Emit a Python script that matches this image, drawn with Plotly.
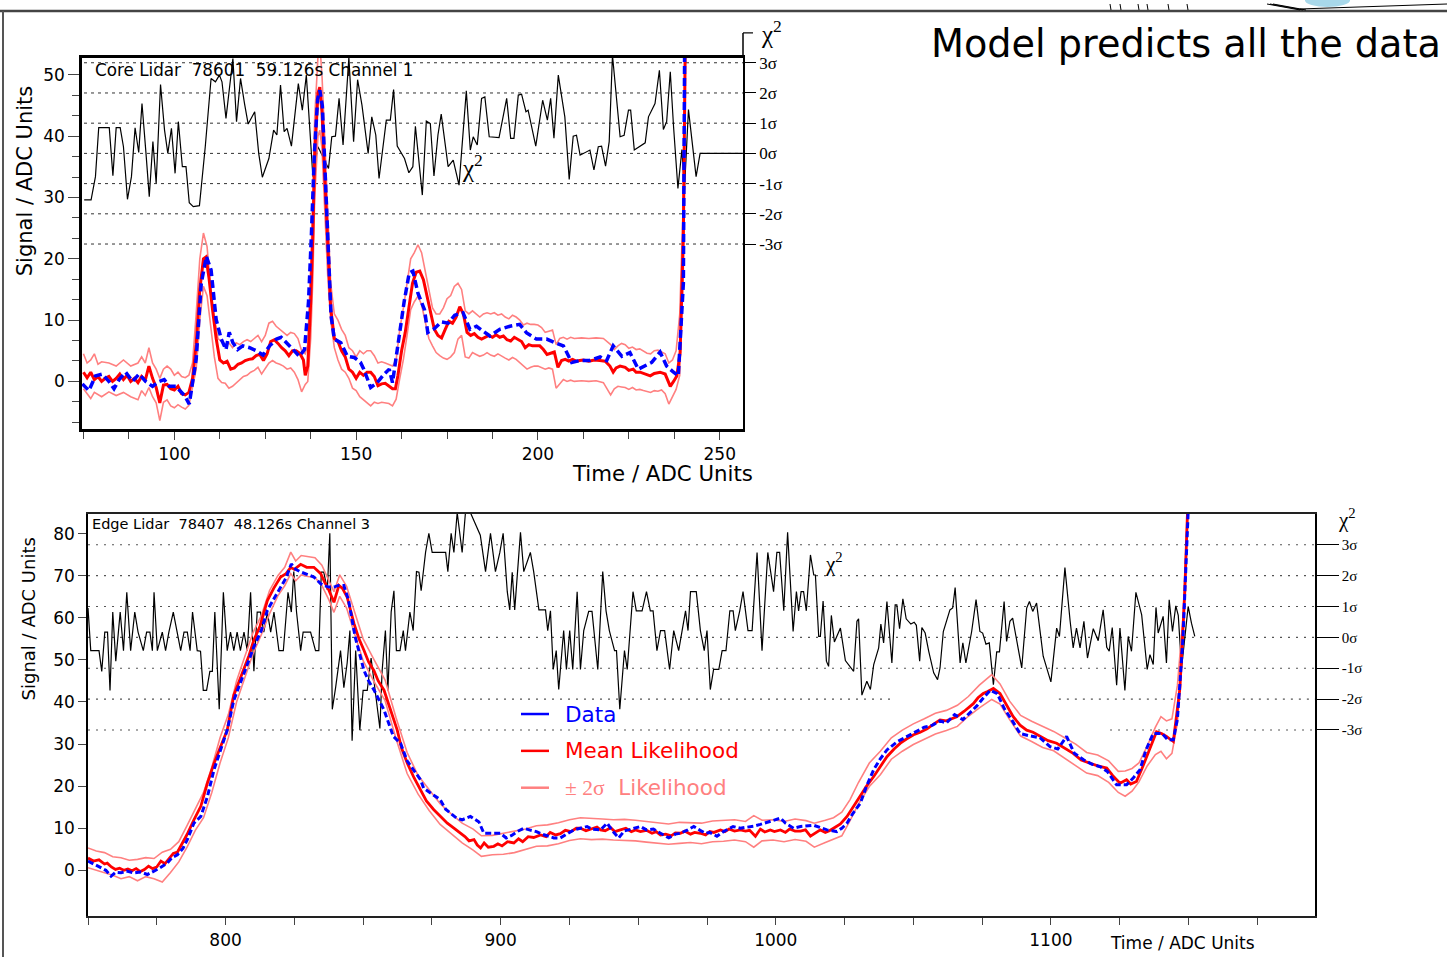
import plotly.graph_objects as go

W, H = 1447, 957


def px(x):
    return x / W


def py(y):
    return 1 - y / H


""" DATA
Top panel: core lidar, channel 1.  Bottom panel: edge lidar, channel 3.
Signals in ADC units, chi-square traces in sigma units (right axes).
"""
sigma_levels = [-3, -2, -1, 0, 1, 2, 3]
sigma_text = ["-3σ", "-2σ", "-1σ", "0σ", "1σ", "2σ", "3σ"]
core_ticks = [100, 150, 200, 250]
edge_ticks = [800, 900, 1000, 1100]
edge_signal_ticks = [0, 10, 20, 30, 40, 50, 60, 70, 80]

core_mean_x = [75, 76, 77, 78, 79, 80, 81, 82, 83, 84,
               85, 86, 87, 88, 89, 90, 91, 92, 93, 94,
               95, 96, 97, 98, 99, 100, 101, 102, 103, 104,
               105, 106, 107, 108, 108.7, 109.5, 110.5, 111.5, 112.5, 113.5,
               114.5, 115.5, 116.5, 117.5, 118.5, 119.5, 120.5, 121.5, 122.5, 123.5,
               124.5, 125.5, 126.5, 127.5, 128.5, 129.5, 130.5, 131.5, 132.5, 133.5,
               134.5, 135.5, 136, 136.7, 137.5, 138.1, 138.6, 139.5, 140, 140.6,
               141.4, 142.2, 143, 144, 145, 146, 147, 148, 149, 150,
               151, 152, 153, 154, 155, 156, 157, 158, 159, 160,
               160.8, 161.5, 162.5, 163.5, 164.5, 165.5, 166.5, 167.5, 168.5, 169.5,
               170.5, 171.5, 172.5, 173.5, 174.5, 175.5, 176.5, 177.5, 178.5, 179.5,
               180.5, 181.5, 182.5, 183.5, 184.5, 185.5, 186.5, 187.5, 188.5, 189.5,
               190.5, 191.5, 192.5, 193.5, 194.5, 195.5, 196.5, 197.5, 198.5, 199.5,
               200.5, 201.5, 202.5, 203.5, 204.5, 205.5, 206.5, 207.5, 208.5, 209.5,
               210.5, 211.5, 212.5, 214, 215.5, 217, 218.5, 219.8, 220.7, 221.5,
               222.6, 224, 225, 226.2, 227, 228.1, 229.5, 230.9, 232, 233.6,
               235, 236.4, 237.3, 238.2, 239.1, 240, 240.6]
core_mean = [1.5, 0.6, 1.5, 0.3, 0.8, 0.0, 0.5, 0.8, 0.0, 0.5,
             1.2, 0.3, 1.0, 0.0, 0.5, -0.2, 0.8, 0.2, 2.5, 0.5,
             -1.0, -3.5, -0.6, -0.5, -1.2, -1.4, -0.8, -2.0, -2.2, -1.8,
             0.5, 6.0, 15.0, 20.0, 20.3, 17.0, 11.7, 7.0, 3.5, 3.0,
             3.3, 2.0, 2.2, 2.8, 3.0, 3.4, 3.6, 3.7, 4.2, 4.4,
             3.4, 4.5, 6.5, 6.8, 6.2, 5.5, 5.0, 4.2, 5.0, 5.0,
             4.6, 3.5, 1.0, 2.5, 13.0, 24.0, 37.0, 47.0, 48.0, 44.0,
             33.0, 22.0, 12.0, 7.0, 6.5, 5.0, 4.0, 2.0, 1.5, 0.5,
             1.5, 1.0, 1.5, 1.5, 0.8, -0.7, -0.4, -0.3, -0.7, -1.2,
             -1.2, 1.0, 5.0, 8.0, 12.0, 16.0, 17.8, 18.0, 16.6, 14.0,
             11.0, 8.5, 7.5, 7.1, 8.5, 9.8, 9.5, 10.5, 12.2, 11.0,
             8.0, 7.5, 7.8, 7.2, 6.9, 7.2, 7.5, 7.2, 7.6, 7.2,
             7.4, 6.8, 6.6, 7.2, 6.9, 6.5, 5.5, 6.0, 5.8, 5.8,
             5.8, 5.2, 4.4, 4.6, 4.8, 2.3, 3.4, 3.6, 3.3, 3.6,
             3.3, 3.4, 3.5, 3.3, 3.5, 3.4, 3.3, 2.5, 1.5, 2.2,
             2.5, 2.3, 1.8, 2.0, 1.5, 1.5, 1.2, 0.9, 1.3, 1.5,
             1.2, -0.8, 0.0, 0.9, 4.7, 24.0, 60.0]

core_band_x = [75, 76, 77, 78, 79, 80, 82, 84, 86, 88,
               90, 91, 92, 93, 94, 95, 96, 97, 98, 99,
               100, 101, 102, 103, 104, 105, 106, 107, 108, 109,
               110, 111, 112, 113, 114, 115, 116, 117, 118, 119,
               120, 121, 122, 123, 124, 125, 126, 127, 128, 129,
               130, 131, 132, 133, 134, 135, 136, 136.7, 137.5, 138.1,
               138.6, 139.5, 140, 140.6, 141.4, 142.2, 143, 144, 145, 146,
               147, 148, 149, 150, 151, 152, 153, 154, 155, 156,
               157, 158, 159, 160, 161, 162, 163, 164, 165, 166,
               167, 168, 169, 170, 171, 172, 173, 174, 175, 176,
               177, 178, 179, 180, 181, 182, 183, 184, 185, 186,
               187, 188, 189, 190, 191, 192, 193, 194, 195, 196,
               197, 198, 199, 200, 201, 202, 203, 204, 205, 206,
               207, 208, 209, 210, 212, 214, 216, 218, 220, 221,
               222, 223, 224, 225, 226, 227, 228, 229, 230, 231,
               232, 233, 234, 235, 236, 237, 238, 239, 240, 240.6]
core_hi = [4.5, 3.0, 3.5, 4.5, 2.8, 3.2, 3.0, 2.5, 3.5, 2.5,
           3.0, 4.0, 3.0, 5.5, 3.0, 2.0, 0.5, 2.0, 2.5, 2.0,
           1.0, 1.5, 0.8, 0.6, 1.0, 3.0, 11.0, 20.0, 24.2, 22.0,
           15.0, 10.5, 7.0, 6.5, 5.8, 6.3, 5.5, 6.3, 6.0, 6.5,
           6.8, 6.5, 7.0, 7.5, 6.5, 7.5, 9.5, 9.8, 9.0, 8.5,
           8.0, 7.5, 8.0, 7.8, 7.0, 5.0, 4.5, 6.0, 19.0, 30.0,
           43.0, 53.0, 55.0, 50.0, 39.0, 27.0, 16.0, 11.0, 10.0, 8.5,
           7.5, 5.5, 5.0, 4.0, 5.0, 4.5, 5.0, 5.0, 4.2, 3.0,
           3.2, 3.0, 2.7, 2.5, 3.5, 8.5, 12.0, 16.0, 20.0, 21.0,
           22.3, 21.0, 18.0, 15.0, 12.0, 11.0, 11.0, 12.0, 13.5, 14.0,
           15.5, 16.0, 15.0, 11.5, 11.0, 11.5, 11.0, 10.5, 11.0, 11.2,
           11.0, 11.2, 10.8, 11.0, 10.5, 10.2, 10.8, 10.5, 10.0, 9.2,
           9.5, 9.3, 9.3, 9.2, 8.8, 8.0, 8.2, 8.4, 6.0, 7.0,
           7.2, 6.9, 7.2, 7.0, 7.1, 7.0, 7.1, 7.0, 6.0, 5.2,
           5.8, 6.2, 6.0, 5.4, 5.6, 5.2, 5.3, 4.9, 4.6, 4.5,
           5.0, 5.1, 4.8, 4.5, 3.0, 3.5, 5.0, 11.0, 30.0, 60.0]
core_lo = [-1.2, -2.0, -2.8, -1.8, -2.2, -2.5, -1.7, -2.3, -1.8, -2.5,
           -3.0, -1.5, -2.3, -1.0, -2.5, -3.5, -6.4, -3.4, -3.0, -4.0,
           -4.3, -3.8, -4.2, -4.5, -3.9, -1.2, 2.0, 10.0, 15.5, 14.0,
           8.5, 4.0, 0.5, -0.2, -0.3, -1.1, -0.8, -0.3, 0.2, 0.8,
           1.0, 1.5, 1.8, 2.3, 1.2, 2.0, 3.0, 3.4, 3.0, 2.8,
           2.5, 2.0, 2.2, 1.5, 0.3, -1.7, -0.5, 0.0, 7.0, 17.0,
           30.0, 40.0, 41.0, 38.0, 27.0, 17.0, 10.0, 5.5, 3.5, 2.0,
           1.5, 0.5, -1.1, -1.5, -2.5, -3.0, -3.5, -4.0, -3.4, -3.6,
           -3.4, -3.5, -3.6, -4.0, -2.9, 0.5, 3.6, 7.5, 11.7, 13.0,
           13.9, 12.5, 10.0, 7.0, 5.8, 4.7, 4.2, 3.8, 3.6, 4.0,
           4.7, 6.9, 7.5, 4.0, 3.8, 4.7, 4.4, 4.1, 4.3, 4.7,
           4.3, 4.1, 4.5, 4.1, 3.8, 3.5, 3.9, 3.6, 3.1, 2.5,
           2.0, 2.3, 2.5, 2.5, 2.2, 2.0, 2.2, 2.0, -1.1, -0.3,
           0.3, 0.0, 0.2, 0.0, 0.1, 0.0, 0.1, -0.2, -2.2, -1.2,
           -0.8, -0.9, -1.0, -1.3, -1.0, -1.4, -1.3, -1.5, -1.6, -1.8,
           -1.5, -1.6, -1.4, -2.0, -3.7, -2.5, -1.3, 1.0, 18.0, 60.0]

core_data_x = [74.7, 76.5, 78.3, 80.2, 82, 83.4, 84.8, 86.6, 88.5, 90.3,
               92.1, 94, 95.8, 97.2, 98.6, 100.4, 102.8, 104.1, 106, 107.4,
               108.8, 110.1, 111.5, 112.9, 114.2, 115.1, 116.1, 117.4, 118.8, 120.7,
               122.5, 124.4, 126.2, 128.1, 129.4, 130.8, 132.6, 134.4, 135.8, 136.9,
               137.7, 138.5, 139.4, 140, 140.7, 141.5, 142.3, 143.1, 144, 145.8,
               147.6, 149.5, 151.2, 152.1, 154, 155.8, 157.7, 159.1, 160, 161.3,
               163.2, 164.6, 165.6, 167, 168.8, 169.7, 171.5, 173.4, 175.3, 177.1,
               179.4, 181.3, 183.1, 184.9, 186.8, 189.5, 192.3, 195, 196.9, 199.6,
               202.4, 204.7, 207, 209.3, 211.6, 214.3, 217.1, 218.9, 220.7, 223.1,
               225.3, 227.6, 229.5, 231.3, 233.6, 235.4, 237.3, 238.6, 240, 240.4]
core_data = [-0.4, -1.5, 0.9, 1.2, 0.0, -1.2, 0.3, 1.5, 0.0, 1.2,
             0.0, -0.8, 0.0, 0.3, -0.8, -0.8, -2.3, -3.7, 3.6, 16.0,
             20.4, 18.2, 10.1, 6.9, 5.2, 8.0, 6.3, 5.2, 5.8, 5.5,
             5.0, 4.3, 5.8, 6.9, 7.2, 6.3, 5.2, 4.1, 5.2, 13.0,
             24.0, 37.0, 46.0, 47.5, 45.0, 34.0, 22.0, 10.7, 6.9, 6.3,
             4.1, 3.9, 3.1, 2.0, -1.0, -0.2, 1.2, 2.0, -0.2, 5.2,
             13.0, 17.7, 18.0, 14.4, 11.7, 8.0, 8.6, 9.7, 9.5, 10.8,
             11.2, 8.5, 9.0, 8.2, 7.4, 8.5, 9.0, 9.3, 7.9, 6.9,
             6.9, 6.3, 5.8, 3.1, 3.4, 3.4, 4.0, 3.4, 5.8, 4.1,
             4.7, 2.0, 2.5, 3.1, 4.8, 2.5, 1.5, 0.9, 16.0, 60.0]

core_chi_x = [75.2, 77.1, 78.3, 79.2, 82.1, 83.1, 84.0, 85.1, 86.0, 87.1,
              88.2, 89.2, 90.2, 91.1, 92.2, 93.1, 94.1, 95.0, 96.2, 97.3,
              98.2, 99.2, 100.2, 101.1, 102.2, 103.2, 104.1, 105.2, 106.9, 108.5,
              110.1, 111.3, 112.4, 113.1, 114.2, 116.1, 117.1, 118.2, 119.3, 120.3,
              122.1, 123.2, 124.2, 126.0, 127.3, 128.2, 129.2, 130.2, 131.0, 132.2,
              134.1, 135.2, 136.3, 138.1, 139.5, 140.6, 142.4, 143.3, 144.3, 145.3,
              146.4, 148.0, 149.3, 150.4, 151.6, 153.3, 154.3, 155.4, 156.3, 158.3,
              159.4, 160.3, 161.3, 163.3, 164.5, 165.6, 166.3, 168.2, 169.3, 170.4,
              171.4, 172.5, 173.4, 175.3, 176.7, 178.3, 180.3, 181.4, 182.2, 183.3,
              184.5, 185.4, 186.6, 189.3, 191.4, 192.5, 193.4, 194.6, 195.5, 196.7,
              197.3, 199.4, 201.3, 202.6, 203.5, 204.4, 205.6, 207.4, 208.6, 209.7,
              210.6, 211.6, 214.3, 215.4, 216.6, 217.5, 218.6, 219.6, 220.5, 222.6,
              223.7, 224.9, 225.5, 226.5, 229.5, 230.4, 232.2, 233.4, 234.5, 235.4,
              236.4, 237.3, 238.5, 239.6, 240.3, 241.4, 243.5, 244.6, 256.3]
core_chi = [-1.54, -1.54, -0.77, 0.85, 0.85, -0.74, 0.85, 0.85, 0.22, -1.52,
            -0.77, 0.85, 0.03, 1.65, 0.0, -1.43, 0.39, -0.99, 2.28, 0.77,
            0.0, 0.83, -0.66, 1.05, -0.44, -0.44, -1.63, -1.76, -1.73, 0.22,
            2.48, 2.37, 2.59, 2.37, 1.16, 3.14, 1.05, 2.48, 1.65, 0.97,
            1.38, 0.0, -0.79, -0.17, 0.77, 0.61, 2.26, 0.72, 0.83, 0.24,
            2.31, 1.43, 2.59, -0.77, 0.22, -0.06, -0.5, 0.55, 0.57, 1.82,
            0.28, 3.17, 0.39, 2.44, 1.6, 0.0, 1.21, 0.61, -0.83, 1.1,
            1.1, 2.11, 0.24, -0.17, -0.64, -0.44, 0.9, -1.38, 1.07, 0.99,
            -0.75, 0.61, 1.3, -0.44, -0.22, -1.05, 2.07, 0.11, 0.55, 0.28,
            1.82, 1.87, 0.55, 0.52, 1.82, 0.5, 0.5, 1.93, 1.96, 1.38,
            1.43, 0.24, 1.76, 1.1, 1.82, 0.5, 2.59, 1.21, -0.86, 0.57,
            0.6, -0.06, 0.11, -0.55, 0.22, 0.24, -0.42, 0.39, 3.25, 0.55,
            0.6, 1.43, 1.43, 0.11, 0.35, 1.21, 1.65, 2.75, 0.79, 1.05,
            2.7, 0.88, -1.16, 0.13, -1.21, 1.45, -0.77, 0.0, 0.0]

edge_mean_x = [750, 752, 754, 756, 757, 758.5, 760, 761.5, 763, 764.5,
               766, 767.5, 769, 770.5, 772, 773.5, 775, 776.5, 778, 779.5,
               781, 782.5, 784, 786, 788.5, 791, 793.4, 795.8, 798.2, 800.6,
               803, 805, 806.7, 808.5, 810.3, 812.5, 815.2, 817.5, 820, 822,
               823.7, 825, 827.3, 829.5, 832.1, 834.6, 836, 837.6, 839.4, 841.2,
               842.5, 844.2, 846.7, 848.5, 850.3, 852, 853.9, 855.5, 857.6, 860,
               862.4, 864, 866.1, 868.5, 870.9, 873, 875.7, 878, 880.6, 883,
               885.4, 887, 888.5, 890.3, 891.5, 892.7, 894, 895.5, 897.5, 899,
               900.5, 902.5, 904.8, 906.5, 908, 910, 912, 914.5, 916.5, 918,
               920, 921.7, 923.5, 925.5, 927.5, 929, 931, 933, 935, 936.3,
               938, 940, 941.5, 943.5, 945.5, 947.5, 949, 950.8, 953, 955,
               956.5, 958.1, 960, 962, 963.5, 965.3, 967, 969, 970.5, 972.6,
               974.5, 976, 977.5, 979.9, 981.5, 983, 985, 987.1, 989, 990.5,
               992.6, 994.4, 996, 998, 999.5, 1001.7, 1003.5, 1005, 1007, 1009,
               1010.8, 1012.6, 1014.5, 1016.2, 1018, 1019.5, 1021, 1023.5, 1025.9, 1028.5,
               1030.7, 1033, 1035.6, 1038, 1040.4, 1043, 1045.3, 1047.5, 1050.1, 1052.5,
               1055, 1057.5, 1059.7, 1062, 1065.8, 1068.5, 1071.8, 1073.5, 1075.4, 1077,
               1079.1, 1081.5, 1083.5, 1086.3, 1088.8, 1091.2, 1093.5, 1096, 1099, 1102.1,
               1105, 1108.1, 1111, 1114.2, 1117, 1120.3, 1122.5, 1125.1, 1127.5, 1129,
               1131.1, 1133, 1134.8, 1136.5, 1138.4, 1140.2, 1142, 1144.5, 1146.9, 1148.7,
               1149.9]
edge_mean = [2.9, 2.2, 2.5, 1.5, 1.7, 0.8, 0.2, 0.5, 0.0, 0.3,
             -0.1, 0.4, -0.3, 0.2, 1.0, 0.4, 0.8, 2.2, 1.6, 2.9,
             4.0, 4.3, 6.1, 8.5, 12.0, 15.2, 20.7, 25.4, 29.4, 33.3,
             41.6, 45.0, 48.3, 51.0, 54.7, 58.0, 64.1, 67.0, 69.7, 70.5,
             72.0, 71.5, 72.7, 72.0, 72.0, 70.5, 68.5, 66.5, 63.7, 67.7,
             67.0, 64.9, 58.6, 55.0, 52.3, 49.5, 47.5, 45.0, 42.8, 38.0,
             33.3, 29.0, 25.4, 22.0, 19.1, 16.5, 14.4, 13.0, 11.2, 10.0,
             8.8, 8.0, 7.0, 7.3, 6.0, 5.3, 6.5, 5.5, 5.7, 6.3,
             5.8, 6.8, 6.5, 7.5, 6.8, 8.0, 7.8, 8.4, 8.0, 9.0,
             8.4, 8.7, 9.5, 9.2, 10.0, 10.0, 9.4, 9.8, 10.3, 9.6,
             9.4, 10.1, 9.2, 9.6, 10.0, 9.2, 9.6, 9.2, 9.5, 8.8,
             9.2, 8.4, 8.6, 8.2, 8.9, 8.8, 9.3, 8.6, 9.0, 8.8,
             8.4, 9.2, 9.0, 9.6, 9.2, 9.8, 9.3, 9.6, 9.3, 9.5,
             8.1, 9.8, 9.1, 9.6, 9.2, 9.6, 9.0, 9.8, 9.3, 9.3,
             9.6, 8.1, 8.8, 9.6, 9.0, 9.4, 10.0, 11.0, 12.8, 15.5,
             17.9, 20.0, 22.3, 24.8, 27.0, 28.8, 30.2, 31.2, 32.2, 32.8,
             33.6, 34.8, 35.7, 35.5, 36.5, 37.8, 39.6, 41.0, 42.0, 42.5,
             43.2, 42.0, 39.8, 36.5, 34.5, 33.3, 32.8, 31.8, 30.8, 30.2,
             29.0, 27.8, 26.2, 25.4, 24.8, 24.3, 22.5, 20.7, 21.5, 20.5,
             21.1, 24.0, 27.0, 30.0, 32.9, 32.5, 31.8, 30.6, 43.2, 66.5,
             90.0]

edge_band_x = [750, 753, 756, 759, 762, 765, 768, 771, 774, 777,
               780, 783, 786, 789, 792, 795, 798, 801, 804, 807,
               810, 813, 816, 819, 821.5, 823.7, 825.5, 827.5, 830, 832.5,
               835, 837.6, 839.4, 841.5, 844, 847, 850, 854, 858, 862,
               866, 870, 874, 878, 882, 886, 890, 893, 897, 901,
               905, 909, 913, 917, 921, 925, 929, 933, 937, 941,
               945, 949, 953, 957, 961, 965, 969, 973, 977, 981,
               985, 989, 992, 995, 999, 1003, 1007, 1011, 1014, 1018,
               1021, 1024, 1027, 1030, 1034, 1038, 1042, 1046, 1050, 1054,
               1058, 1062, 1066, 1070, 1074, 1078.5, 1081.5, 1085, 1089, 1093,
               1097, 1101, 1105, 1109, 1113, 1117, 1121, 1124.5, 1127, 1129.5,
               1132, 1135, 1138, 1140, 1142, 1144, 1146, 1148, 1149.5, 1150]
edge_hi = [5.3, 4.6, 4.2, 3.2, 3.0, 2.4, 2.6, 3.0, 2.8, 4.3,
           5.0, 6.8, 10.6, 14.5, 18.5, 24.5, 31.5, 37.0, 45.0, 50.8,
           56.5, 60.5, 66.5, 70.0, 72.0, 75.6, 73.5, 74.8, 74.5, 74.3,
           72.5, 68.8, 66.2, 70.2, 67.5, 61.2, 55.0, 50.0, 45.2, 36.2,
           28.0, 22.5, 19.0, 15.8, 13.4, 11.2, 9.8, 8.2, 8.3, 8.8,
           9.2, 9.8, 10.6, 10.8, 11.3, 12.0, 12.5, 12.4, 12.2, 12.0,
           12.1, 11.9, 11.6, 11.2, 11.0, 11.4, 11.3, 11.2, 11.7, 11.8,
           12.0, 11.6, 13.0, 11.9, 12.0, 11.6, 12.2, 11.8, 11.2, 11.9,
           12.5, 13.8, 16.8, 20.8, 25.5, 28.3, 31.5, 33.3, 34.8, 36.0,
           37.3, 38.0, 39.2, 41.3, 44.0, 46.5, 44.3, 40.2, 36.8, 35.4,
           34.2, 33.0, 31.5, 30.0, 28.0, 27.4, 26.0, 23.5, 23.6, 24.2,
           25.5, 29.5, 34.0, 36.5, 35.5, 36.0, 44.0, 60.0, 84.0, 90.0]
edge_lo = [0.6, 0.0, -0.5, -1.2, -2.0, -1.5, -2.5, -1.5, -2.0, -2.8,
           -0.5, 2.0, 5.5, 9.5, 12.5, 18.5, 25.5, 31.5, 40.0, 45.5,
           51.5, 56.0, 61.0, 65.2, 67.6, 70.5, 68.8, 70.2, 69.8, 69.6,
           67.7, 64.2, 61.3, 65.1, 62.3, 56.0, 49.8, 44.8, 40.3, 31.2,
           23.0, 18.1, 14.2, 10.9, 8.6, 6.5, 4.8, 3.3, 3.7, 3.8,
           4.2, 4.9, 5.7, 5.8, 6.3, 7.1, 7.5, 7.3, 7.4, 7.2,
           7.1, 7.0, 6.7, 6.5, 6.2, 6.4, 6.6, 6.3, 6.8, 6.9,
           7.2, 6.8, 5.5, 7.0, 7.2, 6.8, 7.3, 6.9, 5.5, 6.6,
           7.4, 8.2, 11.8, 15.7, 19.9, 22.7, 26.4, 28.3, 29.9, 31.2,
           32.4, 33.2, 34.2, 36.6, 38.6, 40.6, 39.5, 35.8, 31.9, 30.6,
           29.2, 28.4, 26.6, 25.0, 23.1, 22.5, 20.9, 18.5, 17.6, 18.8,
           21.0, 24.8, 27.5, 28.3, 26.5, 27.8, 35.0, 55.0, 80.0, 90.0]

edge_data_x = [750, 752, 754.5, 756.5, 758.4, 760, 762, 764, 766.7, 769,
               771.6, 774, 776, 778.8, 780.5, 782.5, 784.5, 786.1, 788.5, 791,
               793.4, 795.8, 798.2, 800.6, 803, 806.7, 810.3, 813, 815.2, 818,
               820, 822, 823.9, 825.5, 827.3, 830, 832.1, 834.6, 836, 837.6,
               839.4, 841, 843, 844.7, 847.1, 850.3, 852, 854, 857.6, 861,
               863.6, 866, 870.9, 872, 875.7, 878, 880, 882, 884, 886,
               889, 892.1, 893.9, 896, 899.9, 902, 904, 906, 908.4, 911,
               913, 915, 917, 919.3, 921.7, 924, 926.6, 929, 931.4, 933,
               936.3, 938.7, 940.5, 942.9, 945, 946.5, 950.8, 953, 955.5, 958.1,
               961.1, 963.5, 965.3, 968, 970.2, 972.5, 974.5, 976, 978.6, 981,
               984.5, 987.1, 989.5, 992, 994.4, 997, 999, 1001.7, 1003.5, 1006.5,
               1009, 1011, 1013.8, 1016, 1018.6, 1020.5, 1022.2, 1024, 1025.9, 1028,
               1030.7, 1033, 1035.6, 1038, 1040.4, 1044, 1047.7, 1051, 1054, 1057,
               1059.7, 1062, 1065, 1068, 1070.5, 1073, 1075.5, 1078, 1080.5, 1083,
               1086, 1088.8, 1092, 1096, 1099.7, 1102.5, 1105.7, 1108.5, 1112, 1115,
               1118, 1120.5, 1123.9, 1127.5, 1130, 1132.4, 1134.5, 1137.2, 1140.5, 1142.5,
               1144.5, 1146, 1148, 1149.5, 1150.2]
edge_data = [2.2, 1.5, 0.6, 0.0, -1.4, -0.5, -0.6, -0.2, -0.6, -0.4,
             -1.0, -0.2, 0.5, 1.7, 3.0, 3.7, 5.2, 7.3, 11.2, 12.8,
             17.5, 23.9, 28.6, 33.3, 40.4, 47.0, 53.1, 57.0, 61.8, 65.0,
             67.3, 69.5, 72.8, 71.5, 70.9, 70.2, 69.7, 68.1, 67.6, 67.3,
             67.3, 67.7, 67.7, 64.2, 55.5, 47.5, 45.0, 42.8, 38.1, 31.8,
             30.2, 26.0, 21.5, 19.5, 17.9, 16.8, 14.5, 13.5, 12.4, 12.0,
             12.8, 11.5, 8.8, 8.8, 8.8, 7.7, 8.3, 9.2, 10.0, 9.5,
             9.2, 8.6, 8.2, 7.7, 7.7, 8.6, 9.6, 10.0, 10.4, 9.8,
             9.6, 11.2, 9.5, 7.7, 9.4, 9.6, 10.4, 9.6, 9.8, 8.8,
             7.7, 8.6, 8.8, 9.6, 10.4, 9.5, 8.8, 9.0, 8.1, 9.2,
             10.4, 10.0, 10.2, 10.5, 10.9, 11.5, 11.8, 12.4, 11.2, 10.0,
             10.4, 10.5, 10.7, 10.2, 9.6, 9.4, 9.2, 10.0, 11.2, 13.5,
             15.9, 20.0, 23.9, 26.5, 28.6, 30.5, 31.8, 33.0, 34.0, 34.5,
             35.5, 35.0, 37.0, 35.8, 37.5, 39.0, 41.0, 42.8, 42.0, 38.5,
             35.5, 32.5, 32.0, 31.5, 29.4, 28.8, 31.8, 27.8, 26.2, 25.2,
             24.6, 23.5, 20.3, 20.3, 22.0, 23.9, 28.5, 32.5, 32.5, 31.0,
             31.0, 36.0, 55.0, 80.0, 90.0]

edge_chi_x = [750.0, 751.0, 754.0, 755.0, 756.1, 757.1, 758.0, 759.0, 760.1, 761.7,
              762.9, 764.1, 765.5, 767.0, 768.2, 770.1, 771.3, 772.5, 773.4, 774.0,
              775.2, 777.0, 778.2, 779.4, 781.0, 782.5, 783.7, 784.9, 786.1, 787.1,
              788.0, 789.7, 790.9, 791.9, 793.1, 794.3, 795.2, 796.1, 797.7, 799.2,
              800.6, 801.8, 803.0, 804.2, 805.4, 806.7, 807.9, 809.1, 810.3, 811.5,
              812.7, 813.9, 815.2, 816.4, 817.6, 819.4, 821.0, 822.7, 823.9, 824.8,
              825.8, 827.3, 828.2, 830.9, 832.7, 833.9, 834.8, 835.7, 837.0, 837.9,
              838.8, 840.0, 841.8, 843.0, 844.2, 845.2, 846.0, 847.3, 848.8, 850.0,
              851.5, 852.9, 854.5, 856.1, 856.9, 858.1, 859.0, 860.2, 861.2, 862.1,
              863.4, 864.6, 865.4, 867.0, 868.2, 869.4, 870.3, 871.1, 872.7, 873.9,
              875.1, 880.0, 880.8, 882.0, 883.0, 884.2, 886.0, 887.2, 889.0, 892.6,
              894.5, 896.3, 898.1, 899.7, 900.9, 902.4, 903.3, 904.2, 905.1, 907.2,
              908.4, 910.8, 912.0, 913.9, 916.3, 917.1, 918.1, 919.1, 920.2, 921.1,
              922.9, 923.9, 925.1, 926.2, 927.8, 929.0, 930.2, 932.0, 933.2, 935.3,
              937.1, 938.3, 939.5, 941.4, 942.1, 943.3, 945.0, 946.0, 948.1, 949.3,
              951.4, 953.0, 954.4, 955.4, 956.8, 958.1, 959.6, 961.4, 962.9, 964.7,
              967.2, 968.1, 969.0, 971.1, 972.6, 974.0, 975.0, 976.2, 977.4, 979.3,
              980.5, 981.9, 983.3, 984.5, 985.3, 986.9, 988.1, 989.9, 991.4, 993.2,
              995.0, 997.1, 999.2, 1000.4, 1001.4, 1002.9, 1004.3, 1006.3, 1007.5, 1008.3,
              1009.2, 1010.1, 1011.1, 1012.6, 1013.8, 1014.4, 1015.6, 1016.2, 1017.2, 1018.4,
              1019.2, 1020.2, 1021.3, 1023.5, 1025.3, 1028.3, 1029.5, 1030.1, 1031.3, 1033.1,
              1034.4, 1035.6, 1037.4, 1038.2, 1039.2, 1040.4, 1042.2, 1043.4, 1044.0, 1045.0,
              1046.2, 1047.4, 1049.1, 1050.3, 1051.1, 1052.3, 1053.1, 1054.3, 1055.6, 1057.4,
              1058.8, 1059.7, 1060.9, 1062.1, 1063.3, 1064.3, 1065.2, 1067.0, 1068.0, 1069.1,
              1071.2, 1072.8, 1074.2, 1075.2, 1076.4, 1077.6, 1079.1, 1080.3, 1081.3, 1083.0,
              1083.9, 1085.1, 1086.1, 1089.4, 1091.2, 1092.2, 1093.4, 1094.8, 1097.2, 1100.0,
              1102.1, 1103.1, 1105.1, 1107.0, 1108.1, 1109.3, 1110.6, 1112.0, 1113.3, 1115.4,
              1117.2, 1119.0, 1120.3, 1121.2, 1122.3, 1123.9, 1125.1, 1126.9, 1128.1, 1129.3,
              1130.9, 1133.0, 1135.0, 1136.0, 1137.2, 1138.2, 1139.0, 1140.8, 1142.0, 1143.0,
              1144.2, 1145.4, 1146.3, 1147.5, 1148.7, 1149.9, 1151.1, 1152.3]
edge_chi = [0.95, -0.43, -0.43, -1.10, 0.17, 0.17, -1.72, 0.82, -0.77, 0.82,
            -0.43, 1.46, -0.43, 0.82, 0.17, -0.43, 0.17, 0.17, -0.43, 1.46,
            -0.43, 0.17, -0.43, 0.17, 0.82, 0.17, -0.43, 0.17, 0.17, -0.43,
            0.82, -0.43, -0.45, -1.72, -1.72, -1.10, -1.10, 0.82, -2.33, 1.46,
            -0.43, 0.17, -0.43, 0.17, -0.43, 0.17, -0.43, 1.46, -1.10, 0.82,
            0.82, 0.17, 0.82, 0.17, 0.82, -0.43, -0.43, 1.46, 0.82, 2.13,
            0.82, -0.43, 0.17, 0.17, -0.43, -0.43, 2.11, 2.11, 1.54, 3.37,
            -2.33, -1.63, -0.43, -1.63, -0.83, 0.22, -3.35, -0.43, -3.01, -1.72,
            -1.72, -0.67, -1.74, -2.95, -1.10, 0.22, -1.72, 0.82, 1.51, -0.43,
            -0.43, 0.22, -0.43, 0.82, 0.22, 2.13, 2.11, 1.51, 2.75, 3.37,
            2.75, 2.75, 2.13, 3.37, 2.75, 4.04, 2.75, 4.04, 4.04, 3.31,
            2.13, 3.37, 2.13, 2.75, 3.37, 1.48, 0.89, 2.11, 0.89, 3.40,
            2.13, 2.75, 2.13, 0.89, 0.89, 0.22, 0.86, -1.04, -0.43, -1.69,
            0.22, -1.04, 0.22, -1.04, 1.48, -1.04, 0.22, 0.84, 0.84, -1.04,
            2.13, 0.86, 0.22, -0.43, -0.43, -2.33, -0.43, -1.04, 1.48, 0.86,
            0.86, 1.48, 0.86, 0.86, -0.43, 0.22, 0.22, -1.04, 0.22, -0.43,
            0.86, 0.22, 1.48, 1.48, 0.22, -0.43, 0.22, -1.69, -1.04, -1.04,
            -0.43, -0.43, 0.86, 0.86, 0.22, 0.86, 1.48, 0.22, 0.22, 2.75,
            -0.43, 2.75, 1.48, 2.75, 2.75, 0.86, 3.40, 0.19, 1.48, 0.86,
            1.48, 1.48, 0.86, 2.67, 2.02, 2.02, 0.03, 0.03, 1.18, -0.77,
            -0.94, 0.71, -0.15, 0.30, -0.75, -1.10, 0.52, 0.60, -1.87, -1.42,
            -1.69, -0.88, -0.34, 0.43, -0.18, 1.16, -0.83, 1.05, 1.05, 0.28,
            1.25, 0.60, 0.43, 0.49, 0.39, -0.77, 0.32, 0.14, -0.45, -1.15,
            -1.37, -0.99, 0.19, 0.52, 0.89, 0.95, 1.61, -0.83, -0.18, -0.83,
            0.19, 1.22, 0.19, 0.14, -0.22, -0.18, -1.53, -0.47, -0.47, 1.16,
            -0.13, 0.52, 0.62, -0.99, 0.95, 1.16, 0.84, 1.11, -0.61, -1.44,
            0.30, 0.03, 2.26, 0.52, -0.34, 0.30, -0.34, 0.52, -0.67, 0.28,
            -0.11, 0.89, -0.32, -0.45, 0.32, -1.55, 0.30, -1.72, 0.03, -0.45,
            1.46, 0.73, -1.04, -0.56, -0.88, 0.97, 0.14, 0.68, -0.83, 1.22,
            0.19, 1.02, 0.71, -0.99, 0.09, 1.00, 0.46, 0.03]

for a, b in [(core_mean_x, core_mean), (core_band_x, core_hi), (core_band_x, core_lo),
             (core_data_x, core_data), (core_chi_x, core_chi), (edge_mean_x, edge_mean),
             (edge_band_x, edge_hi), (edge_band_x, edge_lo), (edge_data_x, edge_data),
             (edge_chi_x, edge_chi)]:
    assert len(a) == len(b), (len(a), len(b))

BLUE = "#0000ff"
RED = "#ff0000"
PINK = "#ff8080"
SANS = "DejaVu Sans"
SERIF = "Liberation Serif"

fig = go.Figure()

# top panel: chi on y (right, underneath), signals on y2 (left, overlaying)
fig.add_trace(go.Scatter(x=core_chi_x, y=core_chi, xaxis="x", yaxis="y", mode="lines",
                         line=dict(color="black", width=1.2)))
fig.add_trace(go.Scatter(x=core_band_x, y=core_hi, xaxis="x", yaxis="y2", mode="lines",
                         line=dict(color=PINK, width=1.6)))
fig.add_trace(go.Scatter(x=core_band_x, y=core_lo, xaxis="x", yaxis="y2", mode="lines",
                         line=dict(color=PINK, width=1.6)))
fig.add_trace(go.Scatter(x=core_mean_x, y=core_mean, xaxis="x", yaxis="y2", mode="lines",
                         line=dict(color=RED, width=3)))
fig.add_trace(go.Scatter(x=core_data_x, y=core_data, xaxis="x", yaxis="y2", mode="lines",
                         line=dict(color=BLUE, width=3.5, dash="8px,4px")))

# bottom panel: chi on y3, signals on y4
fig.add_trace(go.Scatter(x=edge_chi_x, y=edge_chi, xaxis="x2", yaxis="y3", mode="lines",
                         line=dict(color="black", width=1.2)))
fig.add_trace(go.Scatter(x=edge_band_x, y=edge_hi, xaxis="x2", yaxis="y4", mode="lines",
                         line=dict(color=PINK, width=1.6)))
fig.add_trace(go.Scatter(x=edge_band_x, y=edge_lo, xaxis="x2", yaxis="y4", mode="lines",
                         line=dict(color=PINK, width=1.6)))
fig.add_trace(go.Scatter(x=edge_mean_x, y=edge_mean, xaxis="x2", yaxis="y4", mode="lines",
                         line=dict(color=RED, width=2.8)))
fig.add_trace(go.Scatter(x=edge_data_x, y=edge_data, xaxis="x2", yaxis="y4", mode="lines",
                         line=dict(color=BLUE, width=3, dash="6px,3px")))

tick_font = dict(family=SANS, size=17, color="black")

fig.update_layout(
    width=W, height=H, margin=dict(l=0, r=0, t=0, b=0),
    paper_bgcolor="white", plot_bgcolor="white", showlegend=False,
    font=dict(family=SANS, color="black"),
    xaxis=dict(domain=[px(82), px(743)], anchor="y", range=[74.6, 256.4],
               showline=True, linewidth=2.5, linecolor="black", mirror=True,
               showgrid=False, zeroline=False, ticks="outside", ticklen=8, tickwidth=1.3,
               tickvals=core_ticks, tickfont=tick_font,
               minor=dict(tick0=75, dtick=12.5, ticks="outside", ticklen=7, tickwidth=1.3)),
    yaxis=dict(domain=[py(427), py(54)], anchor="x", side="right", range=[-9.13, 3.165],
               showline=True, linewidth=1.5, linecolor="black", showgrid=False, zeroline=False,
               ticks="outside", ticklen=11, tickwidth=1.2, tickcolor="black",
               tickvals=sigma_levels, ticktext=sigma_text,
               tickfont=dict(family=SERIF, size=17, color="black")),
    yaxis2=dict(overlaying="y", anchor="x", side="left", range=[-7.8, 52.8],
                showline=True, linewidth=2.5, linecolor="black", showgrid=False, zeroline=False,
                ticks="outside", ticklen=11, tickwidth=1.3, dtick=10, tickfont=tick_font,
                minor=dict(tick0=0, dtick=10 / 3, ticks="outside", ticklen=7, tickwidth=1.3)),
    xaxis2=dict(domain=[px(88), px(1315)], anchor="y3", range=[750, 1196],
                showline=True, linewidth=2, linecolor="#222", mirror=True,
                showgrid=False, zeroline=False, ticks="outside", ticklen=7, tickwidth=1.3,
                tickvals=edge_ticks, tickfont=tick_font,
                minor=dict(tick0=750, dtick=25, ticks="outside", ticklen=7, tickwidth=1.3)),
    yaxis3=dict(domain=[py(916), py(512)], anchor="x2", side="right", range=[-9.03, 4.0],
                showline=True, linewidth=1.5, linecolor="black", showgrid=False, zeroline=False,
                ticks="outside", ticklen=22, tickwidth=1.2, tickcolor="black",
                tickvals=sigma_levels, ticktext=sigma_text,
                tickfont=dict(family=SERIF, size=15, color="black")),
    yaxis4=dict(overlaying="y3", anchor="x2", side="left", range=[-10.9, 84.7],
                showline=True, linewidth=1.5, linecolor="black", showgrid=False, zeroline=False,
                ticks="outside", ticklen=8, tickwidth=1.3, tickvals=edge_signal_ticks,
                tickfont=tick_font),
)

shapes = []
# dashed sigma grid, top panel
for s in sigma_levels:
    shapes.append(dict(type="line", xref="paper", yref="y", x0=px(84), x1=px(743), y0=s, y1=s,
                       line=dict(color="#333", width=1, dash="3px,4px"), layer="below"))
# dotted sigma grid, bottom panel (two levels are broken where the curves pass)
edge_grid_spans = {-3: [(750, 1027), (1121.5, 1196)], -2: [(750, 1042.3), (1102.9, 1196)]}
for s in sigma_levels:
    for a, b in edge_grid_spans.get(s, [(750, 1196)]):
        shapes.append(dict(type="line", xref="x2", yref="y3", x0=a, x1=b, y0=s, y1=s,
                           line=dict(color="#555", width=1.2, dash="2px,6px"), layer="below"))

# top chi axis continues above the frame
shapes.append(dict(type="line", xref="paper", yref="paper", x0=px(743), x1=px(743),
                   y0=py(54), y1=py(29), line=dict(color="black", width=1.5)))
shapes.append(dict(type="line", xref="paper", yref="paper", x0=px(743), x1=px(753),
                   y0=py(29), y1=py(29), line=dict(color="black", width=1.2)))

# legend samples
legend_rows = [("Data", BLUE, 713), ("Mean Likelihood", RED, 750),
               ("<span style='font-family:Liberation Serif'>±\u00a02σ</span>\u00a0\u00a0Likelihood", PINK, 787)]
for label, colour, yy in legend_rows:
    shapes.append(dict(type="line", xref="paper", yref="paper", x0=px(521), x1=px(549),
                       y0=py(yy), y1=py(yy), line=dict(color=colour, width=2.5)))

# slide frame and the clipped drawing above it
shapes.append(dict(type="line", xref="paper", yref="paper", x0=0, x1=1, y0=py(7), y1=py(7),
                   line=dict(color="#444", width=2.5)))
shapes.append(dict(type="line", xref="paper", yref="paper", x0=px(3), x1=px(3), y0=py(7), y1=0,
                   line=dict(color="#555", width=2)))
for xx in [1110, 1120, 1138, 1147, 1168, 1187]:
    shapes.append(dict(type="line", xref="paper", yref="paper", x0=px(xx), x1=px(xx + 1),
                       y0=py(0), y1=py(6), line=dict(color="black", width=1)))
shapes.append(dict(type="circle", xref="paper", yref="paper", x0=px(1305), x1=px(1350),
                   y0=py(3), y1=py(-10), fillcolor="#a8d8ea", line=dict(width=0)))
shapes.append(dict(type="line", xref="paper", yref="paper", x0=px(1300), x1=px(1447),
                   y0=py(5), y1=py(0), line=dict(color="black", width=1)))
for d in [0, 3, 6]:
    shapes.append(dict(type="line", xref="paper", yref="paper", x0=px(1267 + d), x1=px(1300 + d),
                       y0=py(0), y1=py(6), line=dict(color="black", width=1)))
fig.update_layout(shapes=shapes)

ann = []


def note(text, x, y, size, color="black", family=SANS, xanchor="center", angle=0):
    ann.append(dict(text=text, x=px(x), y=py(y), xref="paper", yref="paper", showarrow=False,
                    xanchor=xanchor, yanchor="middle", textangle=angle,
                    font=dict(family=family, size=size, color=color)))


note("Model predicts all the data", 929, 40, 38.2, xanchor="left")
note("Core Lidar\u00a0\u00a078601\u00a0\u00a059.126s Channel 1", 93, 66, 16.8, xanchor="left")
note("Edge Lidar\u00a0\u00a078407\u00a0\u00a048.126s Channel 3", 90, 522, 14.5, xanchor="left")
note("Signal / ADC Units", 25, 178, 21, angle=-90)
note("Signal / ADC Units", 28, 618, 18, angle=-90)
note("Time / ADC Units", 662, 471, 21.3)
note("Time / ADC Units", 1182, 943, 17)
note("χ<sup>2</sup>", 771, 28, 25, family=SERIF)
note("χ<sup>2</sup>", 472, 163, 25, family=SERIF)
note("χ<sup>2</sup>", 1347, 517, 21, family=SERIF)
note("χ<sup>2</sup>", 834, 561, 21, family=SERIF)
for label, colour, yy in legend_rows:
    note(label, 563, yy, 21.5, color=colour, xanchor="left")
fig.update_layout(annotations=ann)

# the page itself must not add a margin around the 1447x957 figure
fig.write_html("out.html", config={"displayModeBar": False},
               post_script="document.body.style.margin='0';")
